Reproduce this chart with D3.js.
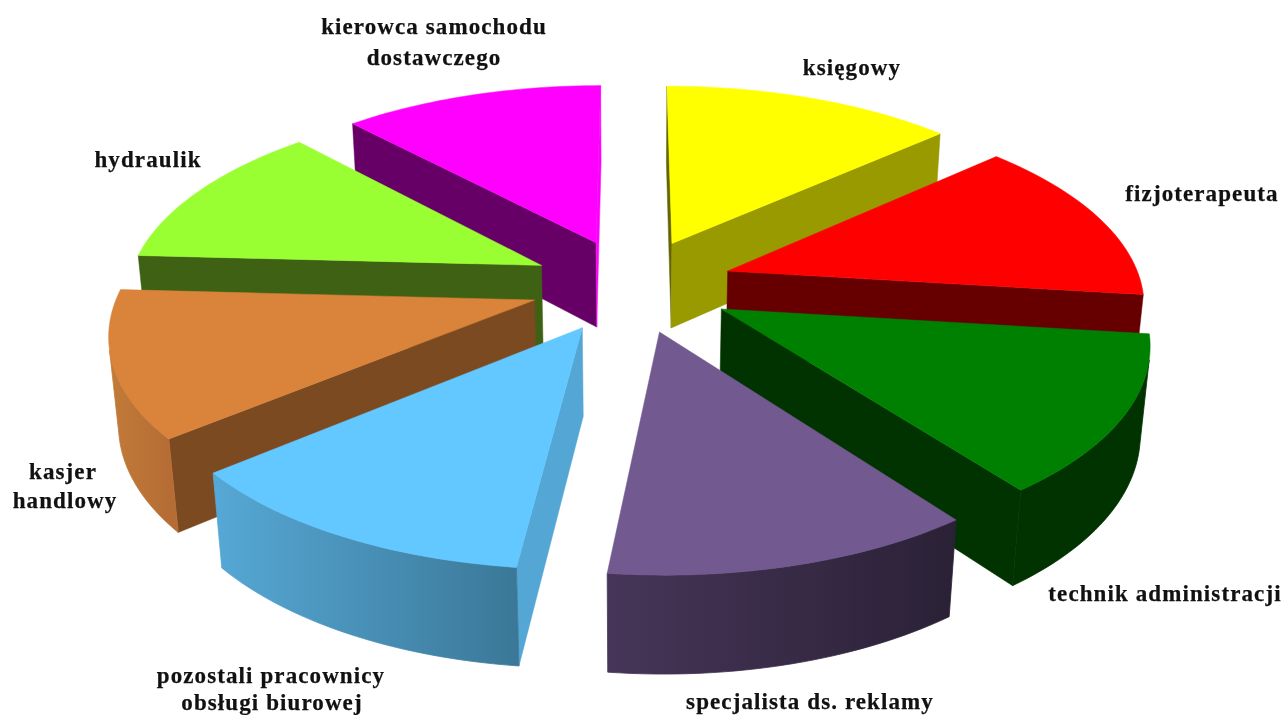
<!DOCTYPE html>
<html>
<head>
<meta charset="utf-8">
<script src="https://cdn.jsdelivr.net/npm/d3@7"></script>
<style>
  html, body { margin: 0; padding: 0; background: #fff; overflow: hidden; }
  svg { filter: blur(0.4px); }
  text { font-family: "Liberation Serif", serif; font-weight: bold; font-size: 23px; letter-spacing: 1.1px; fill: #111; stroke: #111; stroke-width: 0.25px; }
</style>
</head>
<body>
<div id="chart"></div>
<script>
// wartości
const categories = ["księgowy", "fizjoterapeuta", "technik administracji", "specjalista ds. reklamy",
    "pozostali pracownicy obsługi biurowej", "kasjer handlowy", "hydraulik", "kierowca samochodu dostawczego"];
const shares = [13.3, 13.6, 12.8, 12.0, 12.1, 11.9, 12.2, 11.9];

const topColors = ["#ffff00", "#ff0000", "#008000", "#725a90", "#63c8ff", "#d9833b", "#99ff33", "#ff00ff"];
const startFace = ["#666600", "#660000", "#003300", "#2b2238", "#54a6d4", "#7b4a21", "#3e6113", "#660066"];
const endFace = ["#999900", "#660000", "#003300", "#443355", "#54a6d4", "#7b4a21", "#3e6113", "#ff00ff"];
const wallFrom = ["#999900", "#660000", "#003300", "#2a2136", "#3b7898", "#b56d35", "#3e6113", "#660066"];
const wallTo = ["#999900", "#660000", "#003300", "#463558", "#56a8d6", "#c27b38", "#3e6113", "#660066"];

// podpisy: linie tekstu i ich pozycje
const labelLines = [
    [["księgowy", 852, 75]],
    [["fizjoterapeuta", 1202, 201]],
    [["technik administracji", 1165, 601]],
    [["specjalista ds. reklamy", 810, 709]],
    [["pozostali pracownicy", 271, 683], ["obsługi biurowej", 272, 710]],
    [["kasjer", 63, 479], ["handlowy", 65, 508]],
    [["hydraulik", 148, 167]],
    [["kierowca samochodu", 434, 34], ["dostawczego", 434, 65]]
];

const width = 1284, height = 715;
const cx = 632, cy = 285;

// kamera
const tilt = 27.6 * Math.PI / 180;
const focal = 414, dist = 6.0;
const explode = 0.245, thickness = 0.24;

const xScale = d3.scaleLinear().domain([-1, 1]).range([cx - focal, cx + focal]);
const yScale = d3.scaleLinear().domain([-1, 1]).range([cy + focal, cy - focal]);

function project(x, y, h) {
    const yc = y * Math.sin(tilt) + h * Math.cos(tilt);
    const zc = dist + y * Math.cos(tilt) - h * Math.sin(tilt);
    return [xScale(x * dist / zc), yScale(yc * dist / zc)];
}

const svg = d3.select("#chart").append("svg")
    .attr("width", width)
    .attr("height", height);
const defs = svg.append("defs");

const pie = d3.pie().sort(null).value(d => d);
const slices = pie(shares).map((d, i) => {
    const mid = (d.startAngle + d.endAngle) / 2;
    const ox = explode * Math.sin(mid), oy = explode * Math.cos(mid);
    const angles = d3.range(0, 33).map(k => d.startAngle + (d.endAngle - d.startAngle) * k / 32);
    return { i, mid, ox, oy, angles };
});

const line = d3.line();

function wallQuad(a, b) {
    return [project(a[0], a[1], 0), project(b[0], b[1], 0),
            project(b[0], b[1], -thickness), project(a[0], a[1], -thickness)];
}

// rysuj ścianę tylko gdy jest zwrócona do kamery
function drawQuad(g, a, b, fill) {
    const quad = wallQuad(a, b);
    if (d3.polygonArea(quad) <= 0) return;
    g.append("path")
        .attr("d", line(quad) + "Z")
        .attr("fill", fill)
        .attr("stroke", fill)
        .attr("stroke-width", 0.5);
}

slices.slice().sort((a, b) => d3.descending(Math.cos(a.mid), Math.cos(b.mid))).forEach(s => {
    const g = svg.append("g").attr("class", "slice");
    const apex = [s.ox, s.oy];
    const rim = s.angles.map(t => [s.ox + Math.sin(t), s.oy + Math.cos(t)]);

    // boki
    drawQuad(g, apex, rim[0], startFace[s.i]);
    drawQuad(g, rim[rim.length - 1], apex, endFace[s.i]);

    // zewnętrzna ściana: tylko widoczne odcinki łuku
    const visible = rim.filter((p, k) => {
        const q = rim[Math.min(k + 1, rim.length - 1)];
        const o = rim[Math.max(k - 1, 0)];
        return d3.polygonArea(wallQuad(o, q)) > 0;
    });
    if (visible.length > 1) {
        const upper = visible.map(p => project(p[0], p[1], 0));
        const lower = visible.map(p => project(p[0], p[1], -thickness)).reverse();
        const gradId = "wall-" + s.i;
        const grad = defs.append("linearGradient")
            .attr("id", gradId)
            .attr("gradientUnits", "userSpaceOnUse")
            .attr("x1", upper[0][0]).attr("y1", 0)
            .attr("x2", upper[upper.length - 1][0]).attr("y2", 0);
        grad.append("stop").attr("offset", 0).attr("stop-color", wallFrom[s.i]);
        grad.append("stop").attr("offset", 1).attr("stop-color", wallTo[s.i]);
        g.append("path")
            .attr("d", line(upper.concat(lower)) + "Z")
            .attr("fill", "url(#" + gradId + ")")
            .attr("stroke", "url(#" + gradId + ")")
            .attr("stroke-width", 0.8);
    }

    // wierzch
    const topFace = [apex].concat(rim).map(p => project(p[0], p[1], 0));
    g.append("path")
        .attr("d", line(topFace) + "Z")
        .attr("fill", topColors[s.i])
        .attr("stroke", topColors[s.i])
        .attr("stroke-width", 0.5);
});

svg.append("g").selectAll("text")
    .data(labelLines.flat())
    .enter().append("text")
    .attr("x", d => d[1])
    .attr("y", d => d[2])
    .attr("text-anchor", "middle")
    .text(d => d[0]);
</script>
</body>
</html>
